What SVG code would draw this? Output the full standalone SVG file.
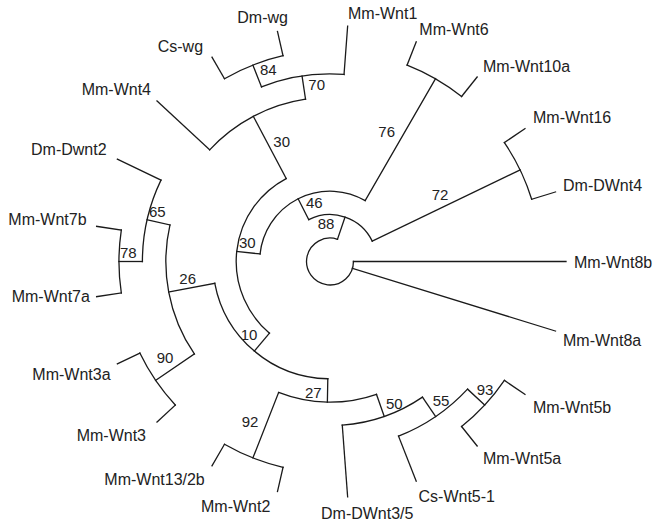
<svg xmlns="http://www.w3.org/2000/svg" width="654" height="523" viewBox="0 0 654 523">
<style>
.e{fill:none;stroke:#1a1a1a;stroke-width:1.3;stroke-linecap:square}
.lab{font-family:"Liberation Sans",Arial,sans-serif;font-size:16px;fill:#222}
.bs{font-family:"Liberation Sans",Arial,sans-serif;font-size:15px;fill:#222}
</style>
<rect width="654" height="523" fill="#fff"/>
<g id="connectors" class="e">
<path d="M337.51,239.29L345.02,217.07"/>
<path d="M372.26,241.15L520.15,169.93"/>
<path d="M504.38,142.61L524.99,128.56"/>
<path d="M531.67,199.29L555.52,191.94"/>
<path d="M353.45,261.5L566,261.5"/>
<path d="M352.41,268.41L555.52,331.06"/>
<path d="M308.77,219.68L298.15,198.77"/>
<path d="M365.18,200.58L435.53,78.73"/>
<path d="M407.11,65.04L416.22,41.81"/>
<path d="M461.59,96.5L477.14,76.99"/>
<path d="M260.06,253.95L236.74,251.43"/>
<path d="M286.17,178.57L253.3,116.37"/>
<path d="M209.67,149.85L157,100.98"/>
<path d="M305.53,99.18L302.04,75.99"/>
<path d="M344.02,74.43L347.64,26.16"/>
<path d="M261.46,86.87L252.9,65.04"/>
<path d="M224.48,78.73L212,57.12"/>
<path d="M283.04,55.74L277.49,31.42"/>
<path d="M269.48,333.17L254.35,351.08"/>
<path d="M327.81,378.73L327.37,402.18"/>
<path d="M278.6,392.47L252.9,457.96"/>
<path d="M283.04,467.26L277.49,491.58"/>
<path d="M224.48,444.27L212,465.88"/>
<path d="M376.47,394.3L384.22,416.44"/>
<path d="M342.27,425.19L347.64,496.84"/>
<path d="M422.47,397.13L435.68,416.5"/>
<path d="M398.54,436.13L416.22,481.19"/>
<path d="M467.52,389.1L484.71,405.05"/>
<path d="M504.38,380.39L524.99,394.44"/>
<path d="M461.59,426.51L477.14,446.01"/>
<path d="M214.79,283.3L168.71,292.02"/>
<path d="M194.37,353.97L155.62,380.39"/>
<path d="M175.29,405.05L157,422.02"/>
<path d="M139.85,353.07L117.37,363.9"/>
<path d="M169.97,224.97L147.1,219.76"/>
<path d="M160.98,180.1L117.37,159.1"/>
<path d="M142.4,261.5L118.95,261.5"/>
<path d="M121.31,292.96L96.64,296.67"/>
<path d="M121.31,230.04L96.64,226.33"/>
</g>
<g id="root"><path class="e" d="M353.45,261.5A23.45,23.45 0 1 1 337.51,239.29"/></g>
<g id="n88"><path class="e" d="M308.77,219.68A46.9,46.9 0 0 1 372.26,241.15"/><text class="bs" x="317.7" y="229.3">88</text></g>
<g id="n72"><path class="e" d="M504.38,142.61A211.05,211.05 0 0 1 531.67,199.29"/><text class="bs" x="431.7" y="200">72</text></g>
<g id="n46"><path class="e" d="M260.06,253.95A70.35,70.35 0 0 1 365.18,200.58"/><text class="bs" x="306" y="207.7">46</text></g>
<g id="n76"><path class="e" d="M407.11,65.04A211.05,211.05 0 0 1 461.59,96.5"/><text class="bs" x="378.3" y="137">76</text></g>
<g id="n30a"><path class="e" d="M269.48,333.17A93.8,93.8 0 0 1 286.17,178.57"/><text class="bs" x="239" y="248.3">30</text></g>
<g id="n30b"><path class="e" d="M209.67,149.85A164.15,164.15 0 0 1 305.53,99.18"/><text class="bs" x="273.3" y="146.5">30</text></g>
<g id="n70"><path class="e" d="M261.46,86.87A187.6,187.6 0 0 1 344.02,74.43"/><text class="bs" x="308.3" y="90">70</text></g>
<g id="n84"><path class="e" d="M224.48,78.73A211.05,211.05 0 0 1 283.04,55.74"/><text class="bs" x="260" y="75">84</text></g>
<g id="n10"><path class="e" d="M327.81,378.73A117.25,117.25 0 0 1 214.79,283.3"/><text class="bs" x="240.7" y="340">10</text></g>
<g id="n27"><path class="e" d="M376.47,394.3A140.7,140.7 0 0 1 278.6,392.47"/><text class="bs" x="305" y="398">27</text></g>
<g id="n92"><path class="e" d="M283.04,467.26A211.05,211.05 0 0 1 224.48,444.27"/><text class="bs" x="241.7" y="427">92</text></g>
<g id="n50"><path class="e" d="M422.47,397.13A164.15,164.15 0 0 1 342.27,425.19"/><text class="bs" x="386" y="409">50</text></g>
<g id="n55"><path class="e" d="M467.52,389.1A187.6,187.6 0 0 1 398.54,436.13"/><text class="bs" x="432.7" y="405.7">55</text></g>
<g id="n93"><path class="e" d="M504.38,380.39A211.05,211.05 0 0 1 461.59,426.51"/><text class="bs" x="476.7" y="395">93</text></g>
<g id="n26"><path class="e" d="M194.37,353.97A164.15,164.15 0 0 1 169.97,224.97"/><text class="bs" x="179.3" y="284">26</text></g>
<g id="n90"><path class="e" d="M175.29,405.05A211.05,211.05 0 0 1 139.85,353.07"/><text class="bs" x="156.7" y="362.5">90</text></g>
<g id="n65"><path class="e" d="M142.4,261.5A187.6,187.6 0 0 1 160.98,180.1"/><text class="bs" x="149" y="216.7">65</text></g>
<g id="n78"><path class="e" d="M121.31,292.96A211.05,211.05 0 0 1 121.31,230.04"/><text class="bs" x="120" y="258.3">78</text></g>
<g id="leaf-wnt8b"><text class="lab" x="574" y="267.5">Mm-Wnt8b</text></g>
<g id="leaf-wnt8a"><text class="lab" x="563" y="345.5">Mm-Wnt8a</text></g>
<g id="leaf-wnt5b"><text class="lab" x="533" y="412.5">Mm-Wnt5b</text></g>
<g id="leaf-wnt5a"><text class="lab" x="483" y="464">Mm-Wnt5a</text></g>
<g id="leaf-cswnt5-1"><text class="lab" x="418.5" y="501.5">Cs-Wnt5-1</text></g>
<g id="leaf-dwnt3-5"><text class="lab" x="321" y="519">Dm-DWnt3/5</text></g>
<g id="leaf-wnt2"><text class="lab" x="201" y="512">Mm-Wnt2</text></g>
<g id="leaf-wnt13-2b"><text class="lab" x="104.3" y="485">Mm-Wnt13/2b</text></g>
<g id="leaf-wnt3"><text class="lab" x="76.7" y="440.5">Mm-Wnt3</text></g>
<g id="leaf-wnt3a"><text class="lab" x="32.3" y="380">Mm-Wnt3a</text></g>
<g id="leaf-wnt7a"><text class="lab" x="11.7" y="301.5">Mm-Wnt7a</text></g>
<g id="leaf-wnt7b"><text class="lab" x="8.3" y="225">Mm-Wnt7b</text></g>
<g id="leaf-dwnt2"><text class="lab" x="31" y="155">Dm-Dwnt2</text></g>
<g id="leaf-wnt4"><text class="lab" x="81.7" y="95">Mm-Wnt4</text></g>
<g id="leaf-cswg"><text class="lab" x="157.7" y="51.5">Cs-wg</text></g>
<g id="leaf-dmwg"><text class="lab" x="237.3" y="22.7">Dm-wg</text></g>
<g id="leaf-wnt1"><text class="lab" x="348" y="18.5">Mm-Wnt1</text></g>
<g id="leaf-wnt6"><text class="lab" x="419.3" y="35">Mm-Wnt6</text></g>
<g id="leaf-wnt10a"><text class="lab" x="483" y="71.5">Mm-Wnt10a</text></g>
<g id="leaf-wnt16"><text class="lab" x="533" y="123.3">Mm-Wnt16</text></g>
<g id="leaf-dwnt4"><text class="lab" x="563" y="190.5">Dm-DWnt4</text></g>
</svg>
